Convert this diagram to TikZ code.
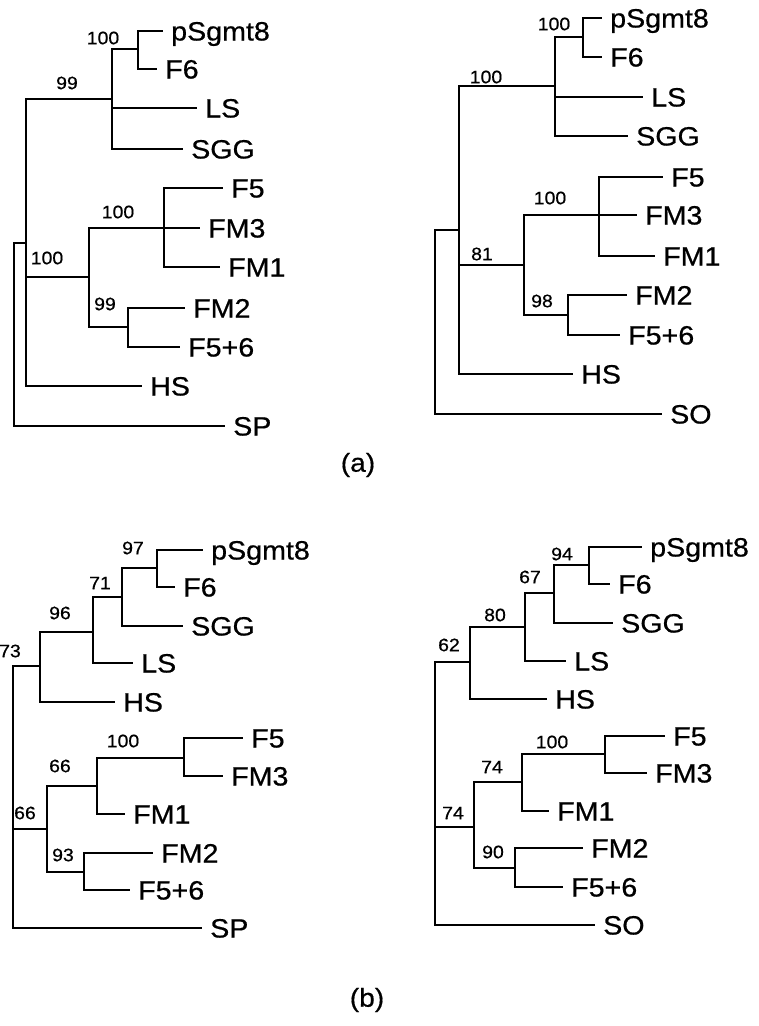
\documentclass[tikz,border=0pt]{standalone}
\usepackage{fontspec}
\newfontfamily\leaffont[FakeStretch=1.08,FakeBold=0.6]{Liberation Sans}
\tikzset{
  branch/.style={line width=2.7pt},
  leaf/.style={anchor=west, inner xsep=8pt, inner ysep=0pt, text height=19pt, text depth=0pt,
    font=\leaffont\fontsize{26.5}{27}\selectfont},
  boot/.style={inner sep=0pt, font=\leaffont\fontsize{18}{19}\selectfont},
  caption/.style={inner sep=0pt, font=\leaffont\fontsize{26}{27}\selectfont}
}
\begin{document}
\begin{tikzpicture}[x=1pt, y=-1pt]
    \useasboundingbox (0,0) rectangle (759,1026);

    % (a) left tree
    \coordinate (alr) at (14,330);
    \coordinate (alA) at (26,243);
    \coordinate (alT) at (112,99);
    \coordinate (alS) at (138,49);
    \coordinate (alM) at (89,277);
    \coordinate (alF) at (164,228);
    \coordinate (alG) at (128,327);
    \node[leaf] (alp) at (163,31) {pSgmt8};
    \node[leaf] (alf6) at (157,69) {F6};
    \node[leaf] (alls) at (197,108) {LS};
    \node[leaf] (alsgg) at (183,149) {SGG};
    \node[leaf] (alf5) at (223,188) {F5};
    \node[leaf] (alfm3) at (200,228) {FM3};
    \node[leaf] (alfm1) at (220,267) {FM1};
    \node[leaf] (alfm2) at (185,308) {FM2};
    \node[leaf] (alf56) at (180,347) {F5+6};
    \node[leaf] (alhs) at (142,386) {HS};
    \node[leaf] (alsp) at (225,426) {SP};
    \draw[branch] (alr) |- (alA) (alr) |- (alsp.west);
    \draw[branch] (alA) |- (alT) (alA) |- (alM) (alA) |- (alhs.west);
    \draw[branch] (alT) |- (alS) (alT) |- (alls.west) (alT) |- (alsgg.west);
    \draw[branch] (alS) |- (alp.west) (alS) |- (alf6.west);
    \draw[branch] (alM) |- (alF) (alM) |- (alG);
    \draw[branch] (alF) |- (alf5.west) (alF) |- (alfm3.west) (alF) |- (alfm1.west);
    \draw[branch] (alG) |- (alfm2.west) (alG) |- (alf56.west);
    \node[boot] (alb1) at (67,83) {99};
    \node[boot] (alb2) at (103,38) {100};
    \node[boot] (alb3) at (47,258) {100};
    \node[boot] (alb4) at (118,212) {100};
    \node[boot] (alb5) at (105,304) {99};

    % (a) right tree
    \coordinate (arr) at (435,330);
    \coordinate (arA) at (459,230);
    \coordinate (arT) at (555,86);
    \coordinate (arS) at (583,37);
    \coordinate (arM) at (524,265);
    \coordinate (arF) at (599,215);
    \coordinate (arG) at (568,315);
    \node[leaf] (arp) at (602,18) {pSgmt8};
    \node[leaf] (arf6) at (602,57) {F6};
    \node[leaf] (arls) at (643,97) {LS};
    \node[leaf] (arsgg) at (628,136) {SGG};
    \node[leaf] (arf5) at (663,177) {F5};
    \node[leaf] (arfm3) at (637,215) {FM3};
    \node[leaf] (arfm1) at (655,256) {FM1};
    \node[leaf] (arfm2) at (627,295) {FM2};
    \node[leaf] (arf56) at (620,335) {F5+6};
    \node[leaf] (arhs) at (573,374) {HS};
    \node[leaf] (arso) at (662,414) {SO};
    \draw[branch] (arr) |- (arA) (arr) |- (arso.west);
    \draw[branch] (arA) |- (arT) (arA) |- (arM) (arA) |- (arhs.west);
    \draw[branch] (arT) |- (arS) (arT) |- (arls.west) (arT) |- (arsgg.west);
    \draw[branch] (arS) |- (arp.west) (arS) |- (arf6.west);
    \draw[branch] (arM) |- (arF) (arM) |- (arG);
    \draw[branch] (arF) |- (arf5.west) (arF) |- (arfm3.west) (arF) |- (arfm1.west);
    \draw[branch] (arG) |- (arfm2.west) (arG) |- (arf56.west);
    \node[boot] (arb1) at (486,77) {100};
    \node[boot] (arb2) at (554,24) {100};
    \node[boot] (arb3) at (482,254) {81};
    \node[boot] (arb4) at (550,198) {100};
    \node[boot] (arb5) at (542,301) {98};

    \node[caption] (capa) at (358,465) {(a)};

    % (b) left tree
    \coordinate (blr) at (13,800);
    \coordinate (blU) at (40,666);
    \coordinate (blV) at (93,632);
    \coordinate (blW) at (122,597);
    \coordinate (blX) at (157,568);
    \coordinate (blL) at (47,829);
    \coordinate (blY) at (97,786);
    \coordinate (blZ) at (184,758);
    \coordinate (blQ) at (84,872);
    \node[leaf] (blp) at (203,550) {pSgmt8};
    \node[leaf] (blf6) at (175,587) {F6};
    \node[leaf] (blsgg) at (183,626) {SGG};
    \node[leaf] (blls) at (133,663) {LS};
    \node[leaf] (blhs) at (115,702) {HS};
    \node[leaf] (blf5) at (243,738) {F5};
    \node[leaf] (blfm3) at (223,776) {FM3};
    \node[leaf] (blfm1) at (125,814) {FM1};
    \node[leaf] (blfm2) at (153,853) {FM2};
    \node[leaf] (blf56) at (130,890) {F5+6};
    \node[leaf] (blsp) at (202,928) {SP};
    \draw[branch] (blr) |- (blU) (blr) |- (blL) (blr) |- (blsp.west);
    \draw[branch] (blU) |- (blV) (blU) |- (blhs.west);
    \draw[branch] (blV) |- (blW) (blV) |- (blls.west);
    \draw[branch] (blW) |- (blX) (blW) |- (blsgg.west);
    \draw[branch] (blX) |- (blp.west) (blX) |- (blf6.west);
    \draw[branch] (blL) |- (blY) (blL) |- (blQ);
    \draw[branch] (blY) |- (blZ) (blY) |- (blfm1.west);
    \draw[branch] (blZ) |- (blf5.west) (blZ) |- (blfm3.west);
    \draw[branch] (blQ) |- (blfm2.west) (blQ) |- (blf56.west);
    \node[boot] (blb1) at (10,651) {73};
    \node[boot] (blb2) at (60,613) {96};
    \node[boot] (blb3) at (100,583) {71};
    \node[boot] (blb4) at (133,548) {97};
    \node[boot] (blb5) at (25,813) {66};
    \node[boot] (blb6) at (60,766) {66};
    \node[boot] (blb7) at (123,741) {100};
    \node[boot] (blb8) at (63,855) {93};

    % (b) right tree
    \coordinate (brr) at (435,800);
    \coordinate (brU) at (470,662);
    \coordinate (brV) at (525,627);
    \coordinate (brW) at (554,593);
    \coordinate (brX) at (589,565);
    \coordinate (brL) at (474,827);
    \coordinate (brY) at (522,782);
    \coordinate (brZ) at (605,754);
    \coordinate (brQ) at (515,868);
    \node[leaf] (brp) at (642,547) {pSgmt8};
    \node[leaf] (brf6) at (610,584) {F6};
    \node[leaf] (brsgg) at (613,623) {SGG};
    \node[leaf] (brls) at (566,661) {LS};
    \node[leaf] (brhs) at (547,699) {HS};
    \node[leaf] (brf5) at (665,736) {F5};
    \node[leaf] (brfm3) at (647,773) {FM3};
    \node[leaf] (brfm1) at (549,811) {FM1};
    \node[leaf] (brfm2) at (583,848) {FM2};
    \node[leaf] (brf56) at (563,887) {F5+6};
    \node[leaf] (brso) at (595,925) {SO};
    \draw[branch] (brr) |- (brU) (brr) |- (brL) (brr) |- (brso.west);
    \draw[branch] (brU) |- (brV) (brU) |- (brhs.west);
    \draw[branch] (brV) |- (brW) (brV) |- (brls.west);
    \draw[branch] (brW) |- (brX) (brW) |- (brsgg.west);
    \draw[branch] (brX) |- (brp.west) (brX) |- (brf6.west);
    \draw[branch] (brL) |- (brY) (brL) |- (brQ);
    \draw[branch] (brY) |- (brZ) (brY) |- (brfm1.west);
    \draw[branch] (brZ) |- (brf5.west) (brZ) |- (brfm3.west);
    \draw[branch] (brQ) |- (brfm2.west) (brQ) |- (brf56.west);
    \node[boot] (brb1) at (449,645) {62};
    \node[boot] (brb2) at (495,615) {80};
    \node[boot] (brb3) at (530,577) {67};
    \node[boot] (brb4) at (562,554) {94};
    \node[boot] (brb5) at (453,813) {74};
    \node[boot] (brb6) at (492,767) {74};
    \node[boot] (brb7) at (552,742) {100};
    \node[boot] (brb8) at (493,852) {90};

    \node[caption] (capb) at (367,1000) {(b)};
\end{tikzpicture}
\end{document}
